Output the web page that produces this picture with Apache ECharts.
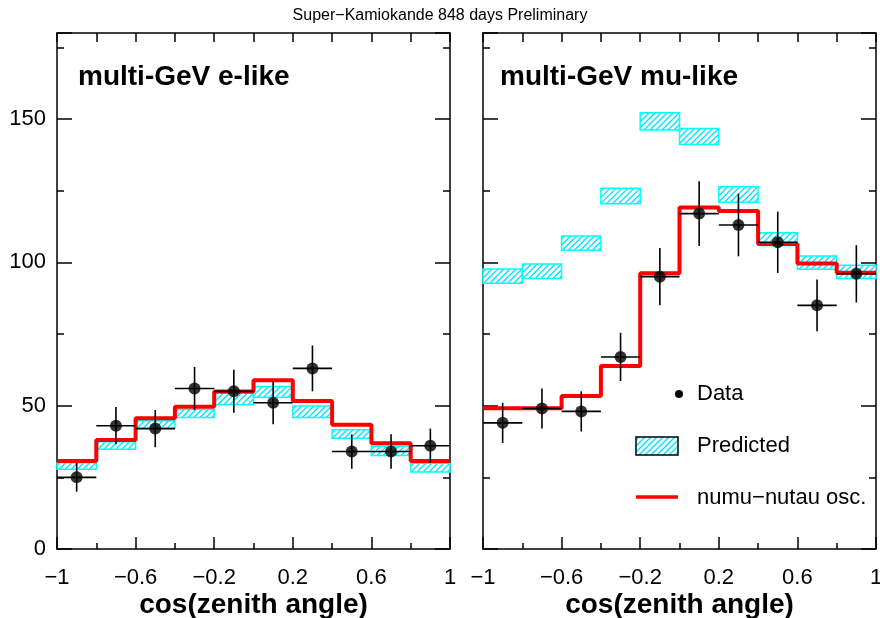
<!DOCTYPE html>
<html><head><meta charset="utf-8">
<script src="https://cdn.jsdelivr.net/npm/echarts@6/dist/echarts.min.js"></script>
<style>html,body{margin:0;padding:0;background:#fff}#c{width:880px;height:618px}</style>
</head><body><div id="c"></div>
<script>
// ---- data ----
const binCenters = [-0.9, -0.7, -0.5, -0.3, -0.1, 0.1, 0.3, 0.5, 0.7, 0.9];
const binWidth = 0.2;
const xTickLabels = ['−1', '−0.8', '−0.6', '−0.4', '−0.2', '0', '0.2', '0.4', '0.6', '0.8', '1'];
const yLabelValues = [0, 50, 100, 150];

const eData     = [25, 43, 42, 56, 55, 51, 63, 34, 34, 36];
const eDataErr  = [5, 6.5, 6.5, 7.5, 7.5, 7.5, 8, 6, 6, 6];
const ePred     = [29, 36.1, 43.4, 47.3, 52.3, 54.8, 47.9, 40.1, 34.2, 28.4];
const ePredErr  = [1.2, 1.3, 1.3, 1.4, 2.0, 1.9, 2.0, 1.5, 1.6, 1.5];
const eOsc      = [30.7, 38, 45.6, 49.6, 54.9, 58.9, 51.6, 43.3, 36.9, 30.7];

const muData    = [44, 49, 48, 67, 95, 117, 113, 107, 85, 96];
const muDataErr = [7, 7, 7, 8.4, 10, 11.3, 10.9, 10.7, 9, 10];
const muPred    = [95.2, 96.9, 106.7, 123.1, 149.2, 143.9, 123.7, 108.1, 99.9, 96.7];
const muPredErr = [2.5, 2.5, 2.5, 2.7, 3.0, 2.8, 2.7, 2.2, 2.3, 2.3];
const muOsc     = [49.1, 49.1, 53.4, 63.8, 96.2, 119.1, 117.9, 106.4, 99.6, 96.4];

const panelLabels = ['multi-GeV e-like', 'multi-GeV mu-like'];
const legendLabels = ['Data', 'Predicted', 'numu−nutau osc.'];
const xName = 'cos(zenith angle)';
const mainTitle = 'Super−Kamiokande 848 days Preliminary';

// ---- style helpers ----
const FONT = 'Liberation Sans, Arial, Helvetica, sans-serif';
const CYAN = '#00ffff';
const HATCH_STEP = 6;

// rectangle with "/" hatch lines, as a list of graphic elements
function hatchedBox(x0, y0, w, h, border) {
  const kids = [{ type: 'rect', shape: { x: x0, y: y0, width: w, height: h },
    style: { fill: '#ffffff' } }];
  for (let d = -h + HATCH_STEP / 2; d < w; d += HATCH_STEP) {
    const u1 = Math.max(0, d), u2 = Math.min(w, h + d);
    if (u2 <= u1) continue;
    kids.push({ type: 'line', shape: { x1: x0 + u1, y1: y0 + h - (u1 - d), x2: x0 + u2, y2: y0 + h - (u2 - d) },
      style: { stroke: '#00e6ff', lineWidth: 1.4, fill: null } });
  }
  kids.push({ type: 'rect', shape: { x: x0, y: y0, width: w, height: h },
    style: { fill: 'rgba(0,0,0,0)', stroke: border, lineWidth: 1.5 } });
  return kids;
}

const blackLine = { show: true, onZero: false, lineStyle: { color: '#000', width: 1.5 } };
const tickStyle = { color: '#000', width: 1.5 };

const grids = [
  { left: 57, right: 430, top: 33, bottom: 69, containLabel: false, outerBoundsMode: 'none' },
  { left: 483, right: 4, top: 33, bottom: 69, containLabel: false, outerBoundsMode: 'none' }
];

const xAxis = [], yAxis = [];
[0, 1].forEach(g => {
  xAxis.push({ type: 'value', gridIndex: g, position: 'bottom', min: -1, max: 1, interval: 0.2,
    axisLine: blackLine, axisTick: { show: true, inside: true, length: 6, lineStyle: tickStyle },
    axisLabel: { show: false }, splitLine: { show: false } });
  xAxis.push({ type: 'category', gridIndex: g, position: 'bottom', boundaryGap: false, data: xTickLabels,
    axisLine: { show: false, onZero: false },
    axisTick: { show: true, inside: true, length: 12, interval: (i) => i % 2 === 0, lineStyle: tickStyle },
    axisLabel: { show: true, interval: (i) => i % 2 === 0, color: '#000', fontSize: 22, fontFamily: FONT, margin: 18 },
    name: xName, nameLocation: 'middle', nameGap: 42, nameMoveOverlap: false,
    nameTextStyle: { color: '#000', fontSize: 28, fontWeight: 'bold', fontFamily: FONT } });
  xAxis.push({ type: 'value', gridIndex: g, position: 'top', min: -1, max: 1, interval: 0.2,
    axisLine: blackLine, axisTick: { show: true, inside: true, length: 9, lineStyle: tickStyle },
    axisLabel: { show: false }, splitLine: { show: false } });
  ['left', 'right'].forEach(pos => {
    yAxis.push({ type: 'value', gridIndex: g, position: pos, min: 0, max: 180, interval: 25,
      axisLine: blackLine, axisTick: { show: true, inside: true, length: 7, lineStyle: tickStyle },
      axisLabel: { show: g === 0 && pos === 'left', color: '#000', fontSize: 22, fontFamily: FONT, margin: 11,
        formatter: (v) => yLabelValues.indexOf(v) >= 0 ? String(v) : '' },
      splitLine: { show: false } });
    yAxis.push({ type: 'value', gridIndex: g, position: pos, min: 0, max: 180, interval: 50,
      axisLine: { show: false, onZero: false }, axisTick: { show: true, inside: true, length: 15, lineStyle: tickStyle },
      axisLabel: { show: false }, splitLine: { show: false } });
  });
});

function predSeries(g, vals, errs) {
  return { type: 'custom', xAxisIndex: g * 3, yAxisIndex: g * 4, z: 2, silent: true,
    data: binCenters.map((c, i) => [c, vals[i], errs[i]]),
    renderItem: (p, api) => {
      const c = api.value(0), v = api.value(1), e = api.value(2);
      const a = api.coord([c - binWidth / 2, v + e]);
      const b = api.coord([c + binWidth / 2, v - e]);
      return { type: 'group', children: hatchedBox(a[0], a[1], b[0] - a[0], b[1] - a[1], CYAN) };
    } };
}
function oscSeries(g, vals) {
  const d = [];
  binCenters.forEach((c, i) => { d.push([c - binWidth / 2, vals[i]]); d.push([c + binWidth / 2, vals[i]]); });
  return { type: 'line', xAxisIndex: g * 3, yAxisIndex: g * 4, z: 3, silent: true, data: d,
    showSymbol: false, symbol: 'none', lineStyle: { color: '#ff0000', width: 4 } };
}
function errSeries(g, vals, errs) {
  return { type: 'custom', xAxisIndex: g * 3, yAxisIndex: g * 4, z: 4, silent: true,
    data: binCenters.map((c, i) => [c, vals[i], errs[i]]),
    renderItem: (p, api) => {
      const c = api.value(0), v = api.value(1), e = api.value(2);
      const l = api.coord([c - binWidth / 2, v]), r = api.coord([c + binWidth / 2, v]);
      const t = api.coord([c, v + e]), b = api.coord([c, v - e]);
      const st = { stroke: '#000', lineWidth: 1.6 };
      return { type: 'group', children: [
        { type: 'line', shape: { x1: l[0], y1: l[1], x2: r[0], y2: r[1] }, style: st },
        { type: 'line', shape: { x1: t[0], y1: t[1], x2: b[0], y2: b[1] }, style: st }
      ] };
    } };
}
function dataSeries(g, vals) {
  return { type: 'scatter', xAxisIndex: g * 3, yAxisIndex: g * 4, z: 5, silent: true,
    data: binCenters.map((c, i) => [c, vals[i]]), symbol: 'circle', symbolSize: 12,
    itemStyle: { color: '#000' } };
}

const series = [
  predSeries(0, ePred, ePredErr), oscSeries(0, eOsc), errSeries(0, eData, eDataErr), dataSeries(0, eData),
  predSeries(1, muPred, muPredErr), oscSeries(1, muOsc), errSeries(1, muData, muDataErr), dataSeries(1, muData)
];

const legendText = { fill: '#000', fontSize: 22, fontFamily: FONT };
const graphic = [
  { type: 'circle', shape: { cx: 679, cy: 394, r: 4 }, style: { fill: '#000' } },
  { type: 'text', left: 697, top: 383, style: Object.assign({ text: legendLabels[0] }, legendText) },
  { type: 'group', children: hatchedBox(636, 437, 42, 18, '#000') },
  { type: 'text', left: 697, top: 435, style: Object.assign({ text: legendLabels[1] }, legendText) },
  { type: 'line', shape: { x1: 636, y1: 497, x2: 678, y2: 497 }, style: { stroke: '#ff0000', lineWidth: 3.5 } },
  { type: 'text', left: 697, top: 487, style: Object.assign({ text: legendLabels[2] }, legendText) }
];

const option = {
  animation: false,
  backgroundColor: '#fff',
  title: [
    { text: mainTitle, left: 'center', top: 8, padding: 0,
      textStyle: { color: '#000', fontSize: 16, fontWeight: 'normal', fontFamily: FONT } },
    { text: panelLabels[0], left: 78, top: 63, padding: 0,
      textStyle: { color: '#000', fontSize: 28, fontWeight: 'bold', fontFamily: FONT } },
    { text: panelLabels[1], left: 500, top: 63, padding: 0,
      textStyle: { color: '#000', fontSize: 28, fontWeight: 'bold', fontFamily: FONT } }
  ],
  grid: grids,
  xAxis: xAxis,
  yAxis: yAxis,
  series: series,
  graphic: graphic
};
const chart = echarts.init(document.getElementById('c'), null, { renderer: 'canvas' });
chart.setOption(option);
</script>
</body></html>
